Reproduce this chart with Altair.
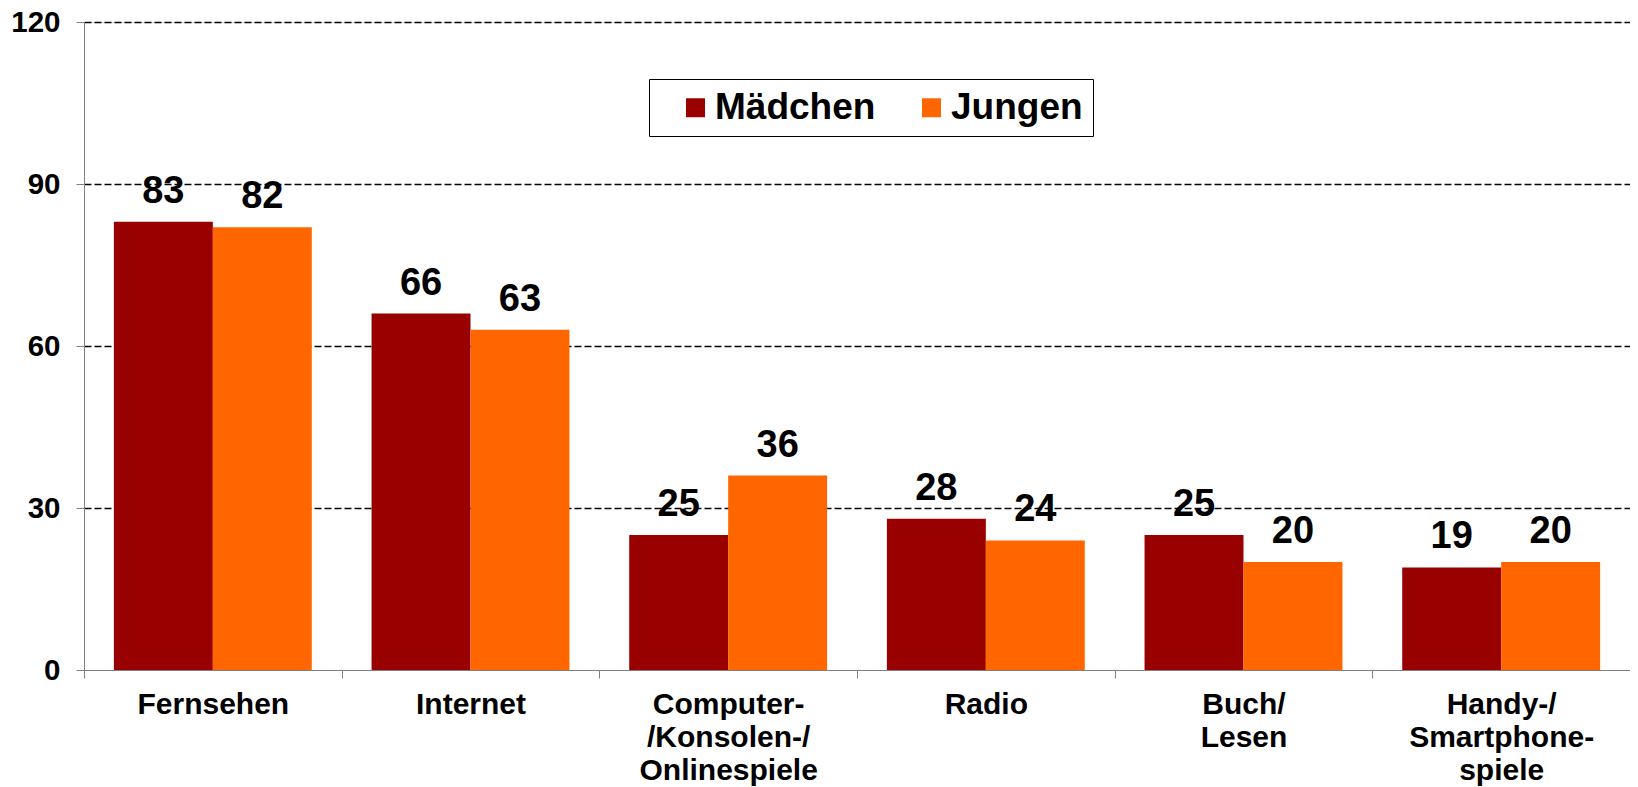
import altair as alt
import pandas as pd

categories = ["Fernsehen", "Internet", "Computer-\n/Konsolen-/\nOnlinespiele", "Radio", "Buch/\nLesen", "Handy-/\nSmartphone-\nspiele"]
series = ["Mädchen", "Jungen"]
maedchen = [83, 66, 25, 28, 25, 19]
jungen = [82, 63, 36, 24, 20, 20]
colors = ["#990000", "#FF6600"]
y_ticks = [0, 30, 60, 90, 120]

rows = []
for c, m, j in zip(categories, maedchen, jungen):
    rows.append({"Kategorie": c, "Gruppe": series[0], "Wert": m})
    rows.append({"Kategorie": c, "Gruppe": series[1], "Wert": j})
df = pd.DataFrame(rows)

FONT = "Liberation Sans"

x = alt.X("Kategorie:N", sort=categories,
          scale=alt.Scale(paddingInner=0, paddingOuter=0),
          axis=alt.Axis(title=None, labelAngle=0, tickBand="extent",
                        labelExpr="split(datum.label, '\\n')",
                        labelFont=FONT, labelFontSize=30, labelFontWeight="bold",
                        labelColor="black", labelLineHeight=33, labelPadding=11,
                        domainColor="#808080", tickColor="#808080", tickSize=8,
                        grid=False, labelLimit=400))
xo = alt.XOffset("Gruppe:N", sort=series,
                 scale=alt.Scale(domain=series, paddingInner=0, paddingOuter=0.302))
y = alt.Y("Wert:Q", scale=alt.Scale(domain=[0, 120], nice=False),
          axis=alt.Axis(title=None, values=y_ticks,
                        labelFont=FONT, labelFontSize=29.5, labelFontWeight="bold",
                        labelColor="black", labelPadding=16,
                        domainColor="#808080", tickColor="#808080", tickSize=8,
                        grid=True, gridColor="black", gridDash=[7, 3], gridWidth=1.5,
                        gridOpacity={"condition": {"test": "datum.value === 0", "value": 0}, "value": 1}))
color = alt.Color("Gruppe:N", sort=series,
                  scale=alt.Scale(domain=series, range=colors),
                  legend=alt.Legend(title=None, orient="none", direction="horizontal",
                                    legendX=565, legendY=57,
                                    symbolType="square", symbolSize=361,
                                    symbolStrokeWidth=0, symbolOpacity=1,
                                    symbolOffset=18,
                                    labelFont=FONT, labelFontSize=37, labelFontWeight="bold",
                                    labelColor="black", labelOffset=1,
                                    columnPadding=19, padding=10,
                                    strokeColor="black", fillColor="white",
                                    labelLimit=400))

base = alt.Chart(df)
bars = base.mark_bar(strokeWidth=0).encode(x=x, xOffset=xo, y=y, color=color)
labels = base.mark_text(font=FONT, fontSize=38, fontWeight="bold", color="black",
                        baseline="alphabetic", dy=-19).encode(
    x=x, xOffset=xo, y=y, text=alt.Text("Wert:Q"))

chart = (bars + labels).properties(
    width=1546, height=648,
    autosize=alt.AutoSizeParams(type="none"),
    padding={"left": 76, "top": 14, "right": 0, "bottom": 117},
).configure_view(stroke=None).configure(background="white")

chart.save("out.html", embed_options={"renderer": "svg", "actions": False})
